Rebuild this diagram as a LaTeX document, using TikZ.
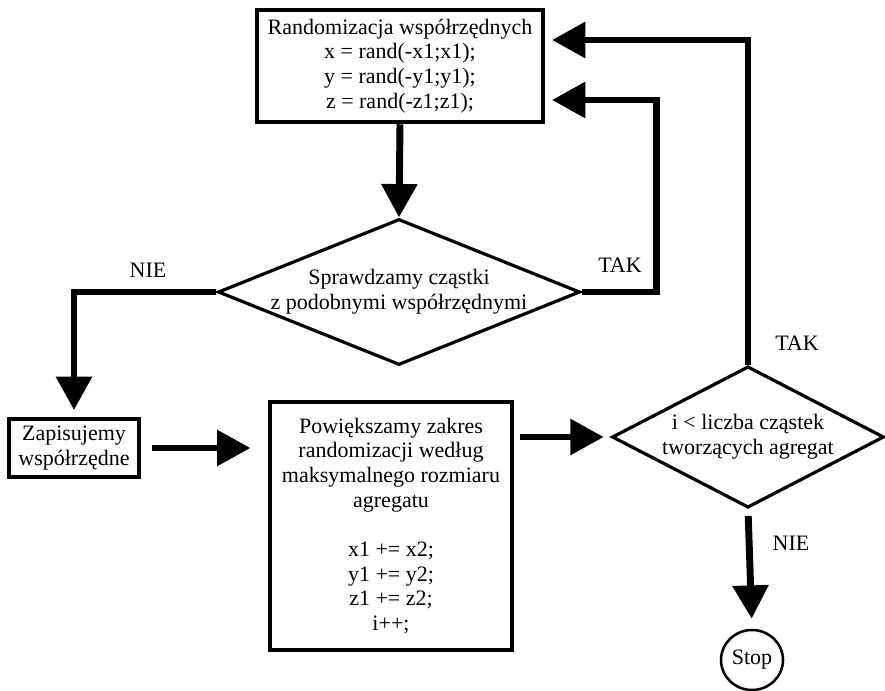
\documentclass[tikz,border=0pt]{standalone}
\usepackage{fontspec}
\setmainfont{Liberation Serif}
\usetikzlibrary{shapes.geometric}
\usetikzlibrary{arrows.meta}
\usetikzlibrary{positioning}

%% styles of the flow chart
\tikzset{
  block/.style={draw, line width=3.4pt, align=center, inner sep=2pt},
  decision/.style={draw, diamond, line width=2.4pt, align=center, inner sep=0pt},
  flow/.style={line width=5.2pt, -{Triangle[length=25pt,width=26pt]}},
  lbl/.style={inner sep=0pt}
}

\begin{document}
\begin{tikzpicture}[x=0.75pt, y=-0.75pt, font=\fontsize{16.5}{18.5}\selectfont]
  \useasboundingbox (0,0) rectangle (885,691);

  %% blocks
  \node[block, minimum width=214.5pt, minimum height=84pt] (rand) at (400,66)
    {Randomizacja współrzędnych\\ x = rand(-x1;x1);\\ y = rand(-y1;y1);\\ z = rand(-z1;z1);};
  \node[decision, minimum width=271.5pt, minimum height=109.5pt,
    shape aspect=2.48, inner xsep=-8pt] (check) at (399,292)
    {Sprawdzamy cząstki\\ z podobnymi współrzędnymi};
  \node[block, minimum width=97.5pt, minimum height=43.5pt] (save) at (74,448)
    {Zapisujemy\\ współrzędne};
  \node[block, minimum width=181.5pt, minimum height=186pt] (grow) at (391,526)
    {Powiększamy zakres\\ randomizacji według\\ maksymalnego rozmiaru\\ agregatu\\[18.5pt]
     x1 += x2;\\ y1 += y2;\\ z1 += z2;\\ i++;};
  \node[decision, minimum width=204pt, minimum height=106pt, shape aspect=1.93] (cond) at (748,437)
    {i < liczba cząstek\\ tworzących agregat};
  \node[draw, ellipse, line width=1.9pt, minimum width=46.5pt, minimum height=45pt,
    inner sep=0pt] (stop) at (752,660) {Stop};

  %% entry points on the right of the first block
  \coordinate (rand_in1) at (rand.east |- 0,100);
  \coordinate (rand_in2) at (rand.east |- 0,40);

  %% connectors
  \draw[flow] (rand.south) -- (check.north);
  \draw[flow, shorten >=5pt] (check.east) -- ++(75,0) |- (rand_in1);
  \draw[flow, shorten >=5pt] (check.west) -| (save.north);
  \draw[flow, shorten <=8pt, shorten >=13pt] (save.east) -- (save.east -| grow.west);
  \draw[flow, shorten <=4pt, shorten >=5pt] (grow.east |- cond.west) -- (cond.west);
  \draw[flow, shorten >=5pt] (cond.north) |- (rand_in2);
  \draw[flow, shorten <=5pt, shorten >=7.5pt] (cond.south) -- (stop.north);

  %% labels
  \node[lbl] (nie1) at (148,270) {NIE};
  \node[lbl] (tak1) at (620,265) {TAK};
  \node[lbl] (tak2) at (797,343) {TAK};
  \node[lbl] (nie2) at (791,543) {NIE};
\end{tikzpicture}
\end{document}
